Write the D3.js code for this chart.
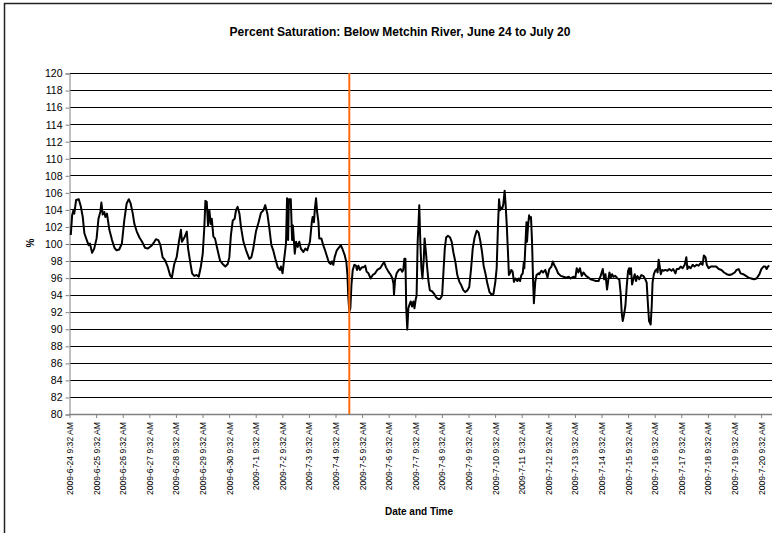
<!DOCTYPE html>
<html>
<head>
<meta charset="utf-8">
<script src="https://cdn.jsdelivr.net/npm/d3@7"></script>
<style>
    body { margin: 0; background: #fff; }
    text { font-family: Arial, "Liberation Sans", sans-serif; }
</style>
</head>
<body>
<div class="container"></div>
<script>
// percent saturation readings: [days after 2009-6-24 9:32 AM, percent]
const samples = [
    [0.03,101.0],[0.08,103.3],[0.13,103.9],[0.16,103.5],[0.23,105.1],[0.33,105.2],[0.41,104.3],[0.48,103.1],
    [0.54,101.2],[0.63,100.4],[0.70,99.8],[0.75,100.0],[0.83,98.9],[0.91,99.4],[1.00,100.6],[1.07,102.9],
    [1.14,103.7],[1.18,104.8],[1.23,103.4],[1.29,103.7],[1.33,103.1],[1.39,103.5],[1.48,101.6],[1.58,100.4],
    [1.67,99.5],[1.75,99.2],[1.85,99.3],[1.95,100.0],[2.04,102.7],[2.13,104.7],[2.21,105.2],[2.28,104.7],
    [2.36,103.5],[2.42,102.3],[2.51,101.4],[2.61,100.7],[2.71,100.2],[2.82,99.5],[2.92,99.4],[3.05,99.7],
    [3.13,100.0],[3.23,100.5],[3.32,100.4],[3.40,99.8],[3.48,98.4],[3.58,98.0],[3.67,97.3],[3.76,96.3],
    [3.83,96.0],[3.92,97.6],[4.01,98.4],[4.09,100.1],[4.17,101.6],[4.21,100.2],[4.30,100.7],[4.39,101.4],
    [4.44,99.4],[4.51,98.0],[4.59,96.5],[4.67,96.2],[4.76,96.3],[4.84,96.1],[4.92,97.3],[4.99,98.8],
    [5.05,101.9],[5.09,105.0],[5.14,104.9],[5.19,102.1],[5.24,103.9],[5.29,102.3],[5.33,102.9],[5.39,100.8],
    [5.45,100.6],[5.55,99.2],[5.64,98.0],[5.74,97.6],[5.84,97.3],[5.93,97.6],[5.99,98.4],[6.05,101.0],
    [6.12,102.7],[6.19,102.9],[6.24,103.9],[6.30,104.3],[6.37,103.5],[6.43,101.9],[6.52,100.2],[6.62,99.2],
    [6.74,98.2],[6.82,98.4],[6.89,99.4],[6.99,101.4],[7.09,102.5],[7.18,103.6],[7.27,103.9],[7.34,104.5],
    [7.42,103.5],[7.49,101.9],[7.57,99.8],[7.64,99.2],[7.72,98.2],[7.81,97.2],[7.89,96.9],[7.93,97.3],
    [7.99,96.5],[8.06,98.4],[8.12,100.0],[8.16,105.3],[8.20,100.4],[8.23,105.2],[8.30,105.2],[8.35,100.4],
    [8.38,102.1],[8.45,98.8],[8.50,100.2],[8.56,99.6],[8.62,100.2],[8.68,99.4],[8.77,99.0],[8.85,99.4],
    [8.92,99.2],[9.02,100.2],[9.09,102.5],[9.12,103.1],[9.17,102.5],[9.21,104.2],[9.25,105.3],[9.29,103.7],
    [9.34,102.5],[9.37,100.6],[9.45,100.6],[9.52,99.8],[9.59,99.2],[9.65,98.6],[9.73,97.8],[9.80,97.6],
    [9.85,97.9],[9.90,97.5],[9.95,98.4],[10.03,99.2],[10.13,99.6],[10.18,99.8],[10.25,99.3],[10.33,98.6],
    [10.39,97.8],[10.43,96.3],[10.46,93.9],[10.50,92.0],[10.54,92.4],[10.58,95.1],[10.63,96.9],[10.69,97.5],
    [10.75,97.4],[10.79,96.9],[10.84,97.4],[10.90,96.9],[10.97,97.2],[11.03,97.2],[11.10,97.4],[11.15,96.7],
    [11.22,96.5],[11.30,95.9],[11.38,96.3],[11.47,96.5],[11.55,96.9],[11.66,97.1],[11.76,97.6],[11.81,97.8],
    [11.88,97.2],[11.97,96.7],[12.06,96.3],[12.12,95.9],[12.16,95.3],[12.18,94.0],[12.22,95.7],[12.28,96.5],
    [12.36,96.9],[12.43,97.0],[12.49,96.7],[12.53,96.9],[12.57,98.2],[12.61,98.2],[12.64,92.4],[12.68,89.9],
    [12.72,92.4],[12.76,92.8],[12.81,93.2],[12.86,92.6],[12.91,93.2],[12.95,92.4],[13.00,93.5],[13.03,93.9],
    [13.07,100.2],[13.11,102.9],[13.13,104.5],[13.17,100.2],[13.21,97.1],[13.25,95.9],[13.30,98.2],[13.33,100.6],
    [13.38,99.0],[13.43,97.1],[13.48,95.5],[13.53,94.5],[13.61,94.4],[13.69,94.1],[13.76,93.7],[13.84,93.5],
    [13.91,93.5],[13.99,93.9],[14.04,96.7],[14.09,99.4],[14.14,100.7],[14.21,100.9],[14.29,100.7],[14.35,100.2],
    [14.41,99.0],[14.49,97.8],[14.56,96.3],[14.64,95.5],[14.71,95.1],[14.79,94.5],[14.86,94.3],[14.94,94.5],
    [15.01,94.9],[15.08,97.1],[15.14,99.4],[15.21,100.7],[15.29,101.5],[15.36,101.3],[15.43,100.2],[15.49,99.0],
    [15.55,97.4],[15.63,96.3],[15.69,95.3],[15.77,94.3],[15.85,94.0],[15.92,94.1],[15.99,95.5],[16.04,97.1],
    [16.09,102.1],[16.13,105.2],[16.17,103.9],[16.20,104.2],[16.25,104.1],[16.29,104.6],[16.34,106.2],[16.38,104.4],
    [16.42,102.1],[16.47,98.6],[16.50,96.3],[16.54,96.5],[16.59,96.9],[16.64,96.7],[16.69,95.5],[16.74,95.9],
    [16.82,95.6],[16.87,95.9],[16.92,95.6],[16.97,96.3],[17.02,96.5],[17.06,97.8],[17.08,97.1],[17.12,99.8],
    [17.16,102.5],[17.18,100.2],[17.22,102.1],[17.26,103.3],[17.29,102.9],[17.33,103.1],[17.37,100.2],[17.41,95.5],
    [17.44,93.0],[17.49,95.5],[17.54,96.3],[17.62,96.5],[17.64,96.4],[17.72,96.8],[17.79,96.6],[17.87,96.9],
    [17.95,96.0],[18.02,97.0],[18.10,97.3],[18.15,97.9],[18.20,97.5],[18.27,97.1],[18.35,96.5],[18.45,96.2],
    [18.55,96.1],[18.65,96.0],[18.75,96.1],[18.82,95.9],[18.92,96.1],[19.00,96.0],[19.05,97.1],[19.11,96.6],
    [19.17,97.1],[19.24,96.2],[19.30,96.6],[19.40,96.2],[19.49,96.0],[19.57,95.8],[19.67,95.7],[19.77,95.6],
    [19.87,95.6],[19.95,96.2],[20.03,97.0],[20.08,95.8],[20.13,96.4],[20.19,94.6],[20.24,95.8],[20.28,96.6],
    [20.33,96.0],[20.38,96.4],[20.43,96.1],[20.50,96.2],[20.58,95.9],[20.65,95.8],[20.70,94.2],[20.74,91.9],
    [20.78,90.9],[20.83,91.7],[20.88,92.7],[20.93,95.0],[20.98,96.8],[21.02,97.1],[21.05,96.4],[21.09,97.1],
    [21.13,95.2],[21.18,95.8],[21.23,96.4],[21.28,95.6],[21.33,96.2],[21.40,95.8],[21.48,96.3],[21.55,96.2],
    [21.63,95.8],[21.68,95.4],[21.73,92.7],[21.77,90.9],[21.83,90.5],[21.87,92.7],[21.90,95.4],[21.95,96.4],
    [22.00,96.8],[22.06,97.0],[22.09,96.6],[22.13,98.1],[22.17,97.3],[22.21,96.4],[22.26,96.9],[22.31,96.8],
    [22.38,96.9],[22.46,96.8],[22.53,97.0],[22.61,96.8],[22.68,97.0],[22.76,96.5],[22.81,97.0],[22.88,97.0],
    [22.96,97.3],[23.03,97.1],[23.11,97.5],[23.17,98.4],[23.21,97.0],[23.26,97.3],[23.33,97.1],[23.41,97.5],
    [23.48,97.3],[23.56,97.5],[23.63,97.4],[23.71,97.7],[23.78,97.5],[23.83,98.6],[23.89,98.4],[23.94,97.5],
    [24.01,97.1],[24.09,97.3],[24.19,97.3],[24.29,97.3],[24.39,97.0],[24.49,96.9],[24.59,96.6],[24.69,96.4],
    [24.79,96.3],[24.89,96.4],[24.99,96.6],[25.06,96.9],[25.14,97.0],[25.21,96.5],[25.31,96.4],[25.41,96.2],
    [25.51,96.0],[25.61,95.9],[25.71,95.8],[25.81,95.9],[25.92,96.4],[25.99,97.0],[26.07,97.3],[26.14,97.3],
    [26.19,97.0],[26.24,97.3],[26.29,97.4]
];

const tickLabels = [
    '2009-6-24 9:32 AM', '2009-6-25 9:32 AM', '2009-6-26 9:32 AM', '2009-6-27 9:32 AM',
    '2009-6-28 9:32 AM', '2009-6-29 9:32 AM', '2009-6-30 9:32 AM', '2009-7-1 9:32 AM',
    '2009-7-2 9:32 AM', '2009-7-3 9:32 AM', '2009-7-4 9:32 AM', '2009-7-5 9:32 AM',
    '2009-7-6 9:32 AM', '2009-7-7 9:32 AM', '2009-7-8 9:32 AM', '2009-7-9 9:32 AM',
    '2009-7-10 9:32 AM', '2009-7-11 9:32 AM', '2009-7-12 9:32 AM', '2009-7-13 9:32 AM',
    '2009-7-14 9:32 AM', '2009-7-15 9:32 AM', '2009-7-16 9:32 AM', '2009-7-17 9:32 AM',
    '2009-7-18 9:32 AM', '2009-7-19 9:32 AM', '2009-7-20 9:32 AM'
];

const yTicks = [80, 82, 84, 86, 88, 90, 92, 94, 96, 98, 100, 102, 104, 106, 108, 110, 112, 114, 116, 118, 120];

// the orange marker, in days after the first reading
const markerDay = 10.5;

const width = 772;
const height = 533;
const plotLeft = 70;
const plotRight = 772;
const plotTop = 73;
const plotBottom = 414;

const start = new Date(2009, 5, 24, 9, 32);
const dayMs = 86400000;
const toDate = d => new Date(start.getTime() + d * dayMs);

function draw() {
    const svg = d3.select('.container')
        .append('svg')
        .attr('width', width)
        .attr('height', height);

    // chart frame
    svg.append('rect')
        .attr('x', 4.5).attr('y', 3.5)
        .attr('width', 900).attr('height', 700)
        .attr('fill', 'none')
        .attr('stroke', '#222')
        .attr('stroke-width', 1.5);

    const xscale = d3.scaleTime()
        .domain([start, toDate(26)])
        .range([plotLeft, 761.6]);
    const yscale = d3.scaleLinear().domain([80, 120]).range([plotBottom, plotTop]);

    // horizontal gridlines
    svg.selectAll('.grid')
        .data(yTicks.filter(v => v > 80))
        .enter()
        .append('line')
        .attr('class', 'grid')
        .attr('x1', plotLeft)
        .attr('x2', plotRight)
        .attr('y1', d => Math.round(yscale(d)) + 0.5)
        .attr('y2', d => Math.round(yscale(d)) + 0.5)
        .attr('stroke', '#000')
        .attr('stroke-width', 1);

    // y axis
    const yAxis = svg.append('g')
        .attr('transform', `translate(${plotLeft - 0.5},0.5)`)
        .call(d3.axisLeft(yscale).tickValues(yTicks).tickSize(4).tickPadding(3));
    yAxis.select('.domain').attr('stroke', '#808080');
    yAxis.selectAll('.tick line').attr('stroke', '#808080');
    yAxis.selectAll('.tick text')
        .attr('fill', '#000')
        .style('font-size', '10.5px')
        .style('font-family', 'Arial, "Liberation Sans", sans-serif');

    // x axis
    svg.append('line')
        .attr('x1', plotLeft - 1).attr('x2', plotRight)
        .attr('y1', plotBottom + 0.5).attr('y2', plotBottom + 0.5)
        .attr('stroke', '#808080')
        .attr('stroke-width', 1.5);

    svg.selectAll('.xtick')
        .data(tickLabels)
        .enter()
        .append('line')
        .attr('class', 'xtick')
        .attr('x1', (d, i) => xscale(toDate(i)))
        .attr('x2', (d, i) => xscale(toDate(i)))
        .attr('y1', plotBottom)
        .attr('y2', plotBottom + 4)
        .attr('stroke', '#808080');

    svg.selectAll('.xlabel')
        .data(tickLabels)
        .enter()
        .append('text')
        .attr('class', 'xlabel')
        .attr('transform', (d, i) => `translate(${xscale(toDate(i))},${plotBottom + 8}) rotate(-90)`)
        .attr('text-anchor', 'end')
        .attr('dy', '0.35em')
        .style('font-size', '8.6px')
        .text(d => d);

    // series
    const line = d3.line()
        .x(d => xscale(toDate(d[0])))
        .y(d => yscale(d[1]));

    svg.append('path')
        .datum(samples)
        .attr('d', line)
        .attr('fill', 'none')
        .attr('stroke', '#000')
        .attr('stroke-width', 2)
        .attr('stroke-linejoin', 'round');

    // orange marker line
    svg.append('line')
        .attr('x1', xscale(toDate(markerDay)))
        .attr('x2', xscale(toDate(markerDay)))
        .attr('y1', plotTop)
        .attr('y2', plotBottom)
        .attr('stroke', '#ff6a10')
        .attr('stroke-width', 2);

    // titles
    svg.append('text')
        .attr('x', 400).attr('y', 36)
        .attr('text-anchor', 'middle')
        .style('font-size', '12px')
        .style('font-weight', 'bold')
        .text('Percent Saturation: Below Metchin River, June 24 to July 20');

    svg.append('text')
        .attr('x', 419).attr('y', 515)
        .attr('text-anchor', 'middle')
        .style('font-size', '10px')
        .style('font-weight', 'bold')
        .text('Date and Time');

    svg.append('text')
        .attr('transform', 'translate(30,243) rotate(-90)')
        .attr('text-anchor', 'middle')
        .attr('dy', '0.35em')
        .style('font-size', '10px')
        .style('font-weight', 'bold')
        .text('%');
}

draw();
</script>
</body>
</html>
